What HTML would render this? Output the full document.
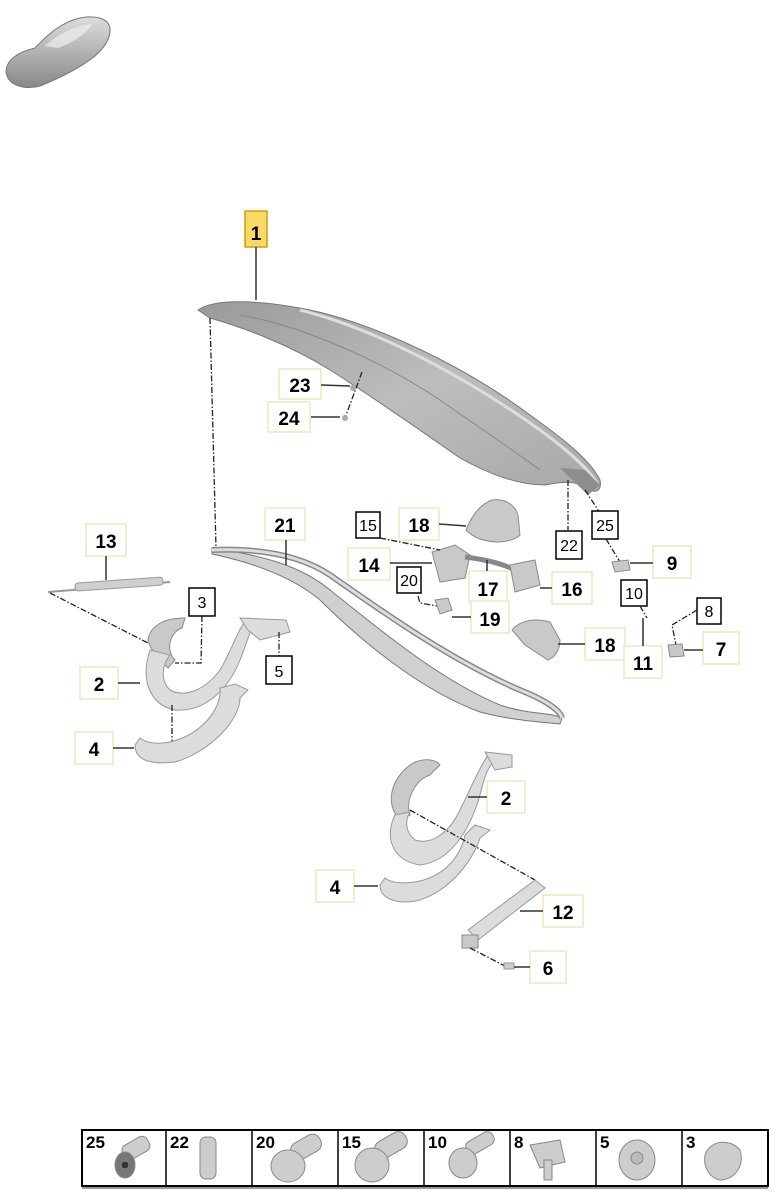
<!DOCTYPE html>
<html><head><meta charset="utf-8"><style>
html,body{margin:0;padding:0;background:#fff;}
svg{display:block;}
.b{font-family:"Liberation Sans",sans-serif;font-weight:bold;font-size:19px;fill:#000;text-anchor:middle;}
.s{font-family:"Liberation Sans",sans-serif;font-size:16px;fill:#000;text-anchor:middle;}
.lb{fill:#fff;stroke:#efe6c0;stroke-width:1.5;}
.bx{fill:#fff;stroke:#000;stroke-width:1.5;}
.ln{stroke:#333;stroke-width:1.5;fill:none;}
.dd{stroke:#222;stroke-width:1.3;fill:none;stroke-dasharray:6,2,1.5,2;}
.p{fill:#c9c9c9;stroke:#8a8a8a;stroke-width:1;}
.pl{fill:#dcdcdc;stroke:#999;stroke-width:1;}
</style></head><body>
<svg width="778" height="1200" viewBox="0 0 778 1200" xmlns="http://www.w3.org/2000/svg">
<defs>
<linearGradient id="car" x1="0" y1="0" x2="0" y2="1"><stop offset="0" stop-color="#ddd"/><stop offset="1" stop-color="#888"/></linearGradient>
<linearGradient id="sp" x1="0" y1="0" x2="1" y2="1"><stop offset="0" stop-color="#9a9a9a"/><stop offset="0.5" stop-color="#bdbdbd"/><stop offset="1" stop-color="#a8a8a8"/></linearGradient>
</defs>
<!-- car icon -->
<path d="M6,72 C6,60 18,52 35,48 C48,34 62,22 80,18 C95,15 108,18 110,28 C111,38 104,48 95,56 C80,68 60,78 40,86 C25,90 8,86 6,72Z" fill="url(#car)" stroke="#777"/>
<path d="M45,46 C58,34 74,26 92,24 C86,34 74,42 58,48Z" fill="#eee" opacity="0.7"/>

<!-- spoiler part 1 -->
<path d="M198,310 C215,298 260,300 310,310 C380,325 470,370 530,415 C565,440 590,460 600,480 C602,490 596,495 588,488 C575,480 560,482 545,485 C520,485 490,475 460,458 C420,430 370,395 330,370 C290,345 245,328 210,318 Z" fill="url(#sp)" stroke="#777"/>
<path d="M240,315 C300,325 380,360 440,400 C480,428 520,455 540,470" stroke="#888" fill="none"/>
<path d="M300,310 C380,330 470,380 540,430 C570,452 590,470 598,485" stroke="#ddd" stroke-width="3" fill="none"/>
<path d="M560,468 L585,470 L600,485 L588,495Z" fill="#8d8d8d"/>
<rect x="245" y="211" width="22" height="36" fill="#f7d96a" stroke="#c9a400" stroke-width="1.5"/>
<text x="256" y="240" class="b">1</text>
<line x1="256" y1="247" x2="256" y2="300" class="ln" stroke="#888"/>
<path d="M210,318 L216,548" class="dd"/>
<rect x="279" y="369" width="42" height="30" class="lb"/><text x="300" y="392" class="b">23</text>
<rect x="268" y="402" width="42" height="30" class="lb"/><text x="289" y="425" class="b">24</text>
<line x1="321" y1="385" x2="350" y2="386" class="ln"/>
<line x1="311" y1="417" x2="340" y2="417" class="ln" stroke="#aaa"/>
<path d="M362,372 L345,418" class="dd"/>
<circle cx="353" cy="388" r="3" fill="#aaa"/><circle cx="345" cy="418" r="3" fill="#aaa"/>

<!-- 21 seal -->
<path d="M212,548 C260,555 300,565 330,590 C380,630 440,680 500,705 C530,715 550,712 562,718 L560,724 C540,722 510,720 480,712 C420,690 360,640 320,600 C290,575 250,562 212,554Z" fill="#d0d0d0" stroke="#777"/>
<path d="M212,550 C260,548 300,555 330,575 C380,610 450,660 520,690 C545,700 560,710 562,718" fill="none" stroke="#888" stroke-width="6"/>
<path d="M212,550 C260,548 300,555 330,575 C380,610 450,660 520,690 C545,700 560,710 562,718" fill="none" stroke="#ddd" stroke-width="3"/>
<rect x="265" y="508" width="40" height="32" class="lb"/><text x="285" y="532" class="b">21</text>
<line x1="286" y1="540" x2="286" y2="565" class="ln"/>

<rect x="356" y="512" width="24" height="26" class="bx"/><text x="368" y="531" class="s">15</text>
<rect x="399" y="508" width="40" height="32" class="lb"/><text x="419" y="532" class="b">18</text>
<line x1="439" y1="524" x2="466" y2="526" class="ln" stroke="#777"/>
<path d="M466,530 C470,520 478,505 492,500 C505,498 515,505 518,515 L520,535 C510,545 480,545 466,530Z" class="p"/>
<rect x="348" y="548" width="42" height="32" class="lb"/><text x="369" y="572" class="b">14</text>
<line x1="390" y1="563" x2="432" y2="563" class="ln"/>
<path d="M432,552 L455,545 L470,555 L465,578 L440,582 Z" class="p"/>
<path d="M465,557 C490,560 505,565 515,570" stroke="#888" stroke-width="5" fill="none"/>
<path d="M510,565 L535,560 L540,585 L515,592Z" class="p"/>
<path d="M380,538 L440,550" class="dd"/>
<rect x="397" y="567" width="24" height="26" class="bx"/><text x="409" y="586" class="s">20</text>
<rect x="469" y="571" width="38" height="32" class="lb"/><text x="488" y="596" class="b">17</text>
<line x1="487" y1="571" x2="487" y2="560" class="ln"/>
<rect x="552" y="572" width="40" height="32" class="lb"/><text x="572" y="596" class="b">16</text>
<line x1="540" y1="588" x2="552" y2="588" class="ln"/>
<path d="M418,596 L420,603 L437,606" class="dd"/>
<path d="M435,600 L448,598 L452,610 L440,614Z" class="p"/>
<rect x="471" y="601" width="38" height="32" class="lb"/><text x="490" y="626" class="b">19</text>
<line x1="452" y1="617" x2="471" y2="617" class="ln"/>
<path d="M512,630 C520,620 535,618 550,622 L560,640 C560,650 555,657 548,660 L525,645 Z" class="p"/>
<rect x="585" y="628" width="40" height="32" class="lb"/><text x="605" y="652" class="b">18</text>
<line x1="558" y1="644" x2="585" y2="644" class="ln"/>

<path d="M568,480 L568,530" class="dd"/>
<path d="M585,490 L600,513" class="dd"/>
<rect x="556" y="531" width="26" height="28" class="bx"/><text x="569" y="551" class="s">22</text>
<rect x="592" y="511" width="26" height="28" class="bx"/><text x="605" y="531" class="s">25</text>
<path d="M606,539 L620,562" class="dd"/>
<path d="M612,562 L628,560 L630,570 L615,572Z" class="p"/>
<rect x="653" y="546" width="38" height="32" class="lb"/><text x="672" y="570" class="b">9</text>
<line x1="630" y1="563" x2="653" y2="563" class="ln" stroke="#888"/>
<rect x="621" y="580" width="26" height="26" class="bx"/><text x="634" y="599" class="s">10</text>
<path d="M640,606 L647,618" class="dd"/>
<rect x="624" y="646" width="38" height="32" class="lb"/><text x="643" y="670" class="b">11</text>
<line x1="643" y1="646" x2="643" y2="618" class="ln"/>
<rect x="697" y="598" width="24" height="26" class="bx"/><text x="709" y="617" class="s">8</text>
<path d="M697,610 L672,625 L676,645" class="dd"/>
<path d="M668,645 L682,644 L684,656 L670,657Z" class="p"/>
<rect x="703" y="632" width="36" height="32" class="lb"/><text x="721" y="656" class="b">7</text>
<line x1="684" y1="650" x2="703" y2="650" class="ln"/>

<rect x="86" y="524" width="40" height="32" class="lb"/><text x="106" y="548" class="b">13</text>
<line x1="106" y1="556" x2="106" y2="580" class="ln" stroke="#888"/>
<path d="M48,592 L170,582" stroke="#999" stroke-width="2" fill="none"/>
<rect x="75" y="580" width="88" height="8" rx="3" fill="#cfcfcf" stroke="#999" transform="rotate(-4 120 584)"/>
<path d="M50,593 L148,643" class="dd"/>
<rect x="189" y="588" width="26" height="28" class="bx"/><text x="202" y="608" class="s">3</text>
<path d="M202,616 L201,663 L175,663" class="dd"/>
<path d="M148,640 C150,625 165,618 185,618 L182,628 C170,632 165,650 175,660 L168,668 C160,660 150,650 148,640Z" class="p"/>
<path d="M150,650 C140,680 150,705 175,710 C205,712 228,690 240,660 C248,640 250,628 258,620 L248,618 C238,628 232,650 220,670 C205,690 185,698 170,690 C160,680 162,665 170,655Z" class="pl"/>
<path d="M240,618 L286,620 L290,632 L260,640 L248,630Z" class="pl"/>
<path d="M279,632 L279,656" class="dd"/>
<rect x="266" y="656" width="26" height="28" class="bx"/><text x="279" y="677" class="s">5</text>
<rect x="80" y="667" width="38" height="32" class="lb"/><text x="99" y="691" class="b">2</text>
<line x1="118" y1="683" x2="140" y2="683" class="ln"/>
<path d="M172,705 L172,745" class="dd"/>
<path d="M135,745 C135,760 150,765 175,762 C210,752 240,720 240,698 L248,690 L235,684 L220,688 C222,710 200,735 170,742 C155,745 145,742 140,738Z" class="pl"/>
<rect x="75" y="732" width="38" height="32" class="lb"/><text x="94" y="756" class="b">4</text>
<line x1="113" y1="748" x2="134" y2="748" class="ln"/>

<path d="M410,765 C420,758 435,758 440,765 L430,775 C415,780 405,800 410,815 L400,820 C385,805 390,780 410,765Z" class="p"/>
<path d="M395,815 C385,835 390,860 420,865 C450,862 470,830 480,795 C485,775 488,765 498,758 L488,755 C478,770 470,790 460,810 C448,835 430,845 415,840 C405,832 405,820 410,812Z" class="pl"/>
<path d="M485,752 L512,755 L512,767 L495,770Z" class="pl"/>
<rect x="487" y="781" width="38" height="32" class="lb"/><text x="506" y="805" class="b">2</text>
<line x1="468" y1="797" x2="487" y2="797" class="ln"/>
<path d="M380,885 C380,900 400,905 420,900 C455,888 475,855 480,838 L490,830 L475,825 L465,835 C460,860 440,878 415,882 C400,884 390,882 385,878Z" class="pl"/>
<rect x="316" y="870" width="38" height="32" class="lb"/><text x="335" y="894" class="b">4</text>
<line x1="354" y1="886" x2="378" y2="886" class="ln"/>
<path d="M410,810 L535,880" class="dd"/>
<path d="M468,930 L535,880 L545,888 L478,940Z" class="pl"/>
<path d="M462,935 L478,935 L478,948 L462,948Z" class="p"/>
<rect x="543" y="895" width="40" height="32" class="lb"/><text x="563" y="919" class="b">12</text>
<line x1="520" y1="911" x2="543" y2="911" class="ln"/>
<path d="M470,948 L505,966" class="dd"/>
<rect x="504" y="963" width="10" height="6" fill="#ccc" stroke="#999"/>
<rect x="530" y="951" width="36" height="32" class="lb"/><text x="548" y="975" class="b">6</text>
<line x1="514" y1="967" x2="530" y2="967" class="ln"/>

<g>
<rect x="82" y="1130" width="686" height="56" fill="#fff" stroke="#000" stroke-width="2"/>
<line x1="82" y1="1188" x2="768" y2="1188" stroke="#999" stroke-width="2"/>
<g stroke="#000" stroke-width="1.5">
<line x1="166" y1="1130" x2="166" y2="1186"/><line x1="252" y1="1130" x2="252" y2="1186"/>
<line x1="338" y1="1130" x2="338" y2="1186"/><line x1="424" y1="1130" x2="424" y2="1186"/>
<line x1="510" y1="1130" x2="510" y2="1186"/><line x1="596" y1="1130" x2="596" y2="1186"/>
<line x1="682" y1="1130" x2="682" y2="1186"/>
</g>
<g class="b" style="font-size:17px;text-anchor:start">
<text x="86" y="1148">25</text><text x="170" y="1148">22</text><text x="256" y="1148">20</text><text x="342" y="1148">15</text>
<text x="428" y="1148">10</text><text x="514" y="1148">8</text><text x="600" y="1148">5</text><text x="686" y="1148">3</text>
</g>
<g fill="#cdcdcd" stroke="#888">
<rect x="122" y="1140" width="28" height="16" rx="6" transform="rotate(-30 136 1148)"/><ellipse cx="125" cy="1165" rx="10" ry="13" fill="#777"/><circle cx="125" cy="1165" r="4" fill="#333"/>
<rect x="200" y="1137" width="16" height="42" rx="6"/>
<rect x="290" y="1138" width="32" height="18" rx="8" transform="rotate(-30 306 1147)"/><ellipse cx="288" cy="1166" rx="17" ry="16"/>
<rect x="374" y="1136" width="34" height="18" rx="8" transform="rotate(-30 391 1145)"/><ellipse cx="372" cy="1165" rx="17" ry="17"/>
<rect x="465" y="1136" width="30" height="14" rx="6" transform="rotate(-30 480 1143)"/><ellipse cx="463" cy="1163" rx="14" ry="15"/>
<path d="M530,1145 L560,1140 L565,1162 L540,1168Z"/><rect x="544" y="1160" width="8" height="20"/>
<ellipse cx="637" cy="1160" rx="18" ry="20"/><circle cx="637" cy="1158" r="6" fill="#bbb"/>
<path d="M705,1155 C710,1140 730,1138 740,1150 C745,1165 735,1180 720,1180 C710,1178 703,1168 705,1155Z"/>
</g>
</g>
</svg>
</body></html>
